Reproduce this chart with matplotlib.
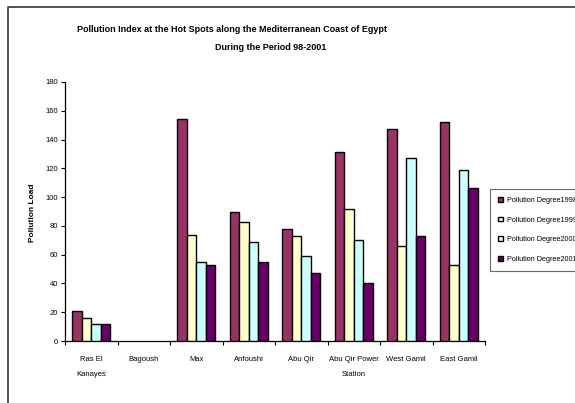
import numpy as np
import matplotlib
matplotlib.use("Agg")
import matplotlib.pyplot as plt
from matplotlib.lines import Line2D

plt.rcParams['font.family'] = ['Liberation Sans', 'DejaVu Sans']

stations = ["Ras El\nKanayes", "Bagoush", "Max", "Anfoushi", "Abu Qir",
            "Abu Qir Power\nStation", "West Gamil", "East Gamil"]
series_names = ["Pollution Degree1998", "Pollution Degree1999",
                "Pollution Degree2000", "Pollution Degree2001"]
deg1998 = [21, 0, 154, 90, 77.5, 131.5, 147.5, 152.5]
deg1999 = [16, 0, 74, 82.5, 73, 91.5, 66, 52.5]
deg2000 = [12, 0, 55, 69, 59, 70, 127.5, 119]
deg2001 = [12, 0, 52.5, 55, 47.5, 40.5, 73, 106.5]
colors = ["#993366", "#FFFFCC", "#CCFFFF", "#660066"]

W, H = 575, 403
fig = plt.figure(figsize=(W / 100, H / 100), dpi=100)
ax = fig.add_axes([65 / W, (H - 341) / H, 420 / W, 259 / H])

x = np.arange(len(stations))
bw = 0.18
handles = []
for i, (vals, name) in enumerate(zip([deg1998, deg1999, deg2000, deg2001], series_names)):
    b = ax.bar(x + (i - 1.5) * bw, vals, bw, color=colors[i], edgecolor="black",
               linewidth=1.0, label=name, zorder=3)
    # empty stations show no bar outline
    for patch, v in zip(b.patches, vals):
        if v == 0:
            patch.set_linewidth(0)
    handles.append(b)

ax.set_xlim(-0.5, len(stations) - 0.5)
ax.set_ylim(0, 180)
ax.set_yticks(range(0, 181, 20))
ax.tick_params(axis='y', labelsize=5.5, length=3, width=0.8, pad=2)
ax.set_xticks(np.arange(-0.5, len(stations), 1.0))
ax.set_xticklabels([])
ax.tick_params(axis='x', which='major', length=3, width=0.8)
ax.set_xticks(x, minor=True)
ax.set_xticklabels(stations, minor=True, fontsize=5.5, linespacing=2.6, va='top')
ax.tick_params(axis='x', which='minor', length=0, pad=11)
for s in ["top", "right"]:
    ax.spines[s].set_visible(False)
for s in ["left", "bottom"]:
    ax.spines[s].set_linewidth(0.9)

fig.text(33 / W, 1 - 213 / H, "Pollution Load", rotation=90, fontsize=6,
         fontweight='bold', ha='center', va='center')
fig.text(232 / W, 1 - 29 / H,
         "Pollution Index at the Hot Spots along the Mediterranean Coast of Egypt",
         fontsize=6.5, fontweight='bold', ha='center', va='center')
fig.text(271 / W, 1 - 48 / H, "During the Period 98-2001",
         fontsize=6.5, fontweight='bold', ha='center', va='center')

leg = fig.legend(handles=handles, loc='upper left', bbox_to_anchor=(490 / W, 1 - 189 / H),
                 fontsize=5.2, frameon=True, fancybox=False, handlelength=0.65,
                 handleheight=0.65, handletextpad=0.6, labelspacing=1.75,
                 borderpad=1.1, borderaxespad=0)
leg.get_frame().set_edgecolor("#444444")
leg.get_frame().set_linewidth(0.8)

fig.add_artist(Line2D([8 / W, 8 / W, 1], [0, 1 - 7 / H, 1 - 7 / H],
                      transform=fig.transFigure, color="#333333", linewidth=1.2))

fig.savefig("out.png", dpi=100)
